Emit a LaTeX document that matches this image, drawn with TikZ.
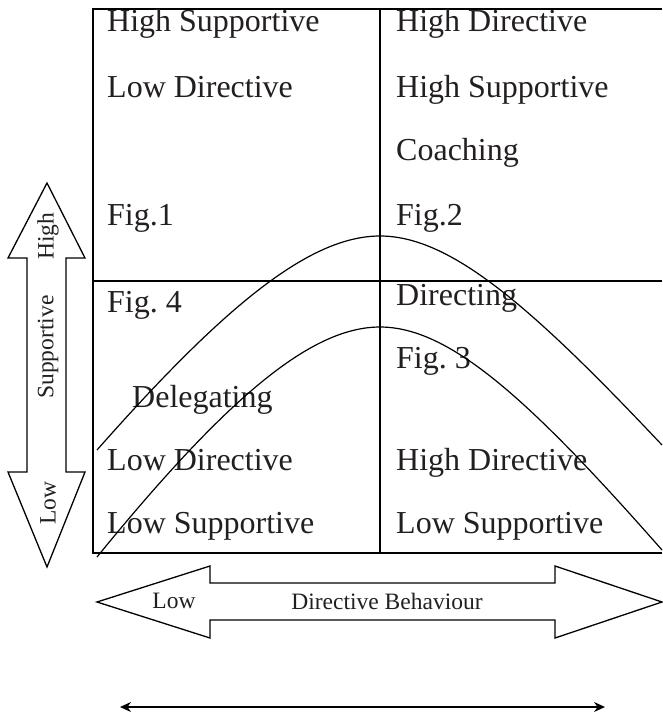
\documentclass[tikz,border=0pt]{standalone}
\usepackage{fontspec}
\setmainfont{Liberation Serif}
\usetikzlibrary{arrows.meta}

\definecolor{ink}{RGB}{35,31,32}
\frenchspacing

\tikzset{
    quadtext/.style={anchor=base west, inner sep=0pt, text=ink, font=\fontsize{32}{32}\selectfont},
    axistext/.style={inner sep=0pt, text=ink, font=\fontsize{23.5}{23.5}\selectfont},
    grid/.style={line width=1.4pt},
    curve/.style={line width=1.2pt},
    blockarrow/.style={line width=1.3pt, line join=miter}
}

\begin{document}
\begin{tikzpicture}[x=1pt, y=-1pt]
    \useasboundingbox (0,0) rectangle (662,717);

    % quadrant frame
    \draw[grid] (662,9) -- (93,9) -- (93,553) -- (662,553);
    \draw[grid] (93,281) -- (662,281);
    \draw[line width=2.2pt] (380,9) -- (380,553);

    % top left quadrant
    \node[quadtext] (tl1) at (107,32) {High Supportive};
    \node[quadtext] (tl2) at (107,97) {Low Directive};
    \node[quadtext] (tl3) at (107,225) {Fig.1};

    % top right quadrant
    \node[quadtext] (tr1) at (396,32) {High Directive};
    \node[quadtext] (tr2) at (396,97) {High Supportive};
    \node[quadtext] (tr3) at (396,160) {Coaching};
    \node[quadtext] (tr4) at (396,225) {Fig.2};

    % bottom left quadrant
    \node[quadtext] (bl1) at (107,312) {Fig. 4};
    \node[quadtext] (bl2) at (132,407) {Delegating};
    \node[quadtext] (bl3) at (107,470) {Low Directive};
    \node[quadtext] (bl4) at (107,533) {Low Supportive};

    % bottom right quadrant
    \node[quadtext] (br1) at (396,305) {Directing};
    \node[quadtext] (br2) at (396,368) {Fig. 3};
    \node[quadtext] (br3) at (396,470) {High Directive};
    \node[quadtext] (br4) at (396,533) {Low Supportive};

    % the two bell curves
    \draw[curve] (97,450) .. controls (225,305) and (310,236) .. (380,236)
                          .. controls (450,236) and (530,305) .. (662,445);
    \draw[curve] (97,557) .. controls (225,400) and (310,327) .. (380,327)
                          .. controls (450,327) and (530,400) .. (662,550);

    % supportive axis
    \draw[blockarrow] (47,183) -- (85,258) -- (66,258) -- (66,472) -- (85,472)
        -- (47,567) -- (8,472) -- (27,472) -- (27,258) -- (8,258) -- cycle;
    \node[axistext, rotate=90] (high) at (48,236) {High};
    \node[axistext, rotate=90] (supp) at (48,347) {Supportive};
    \node[axistext, rotate=90] (low) at (48,503) {Low};

    % directive axis
    \draw[blockarrow] (97,602) -- (210,566) -- (210,583) -- (555,583) -- (555,566)
        -- (662,602) -- (555,638) -- (555,620) -- (210,620) -- (210,638) -- cycle;
    \node[axistext] (dlow) at (174,601) {Low};
    \node[axistext] (dbeh) at (387,601) {Directive Behaviour};

    % plain double arrow underneath
    \coordinate (axl) at (120,707);
    \coordinate (axr) at (605,707);
    \draw[line width=1.3pt, {Stealth[length=11pt,width=10pt]}-{Stealth[length=11pt,width=10pt]}] (axl) -- (axr);
\end{tikzpicture}
\end{document}
